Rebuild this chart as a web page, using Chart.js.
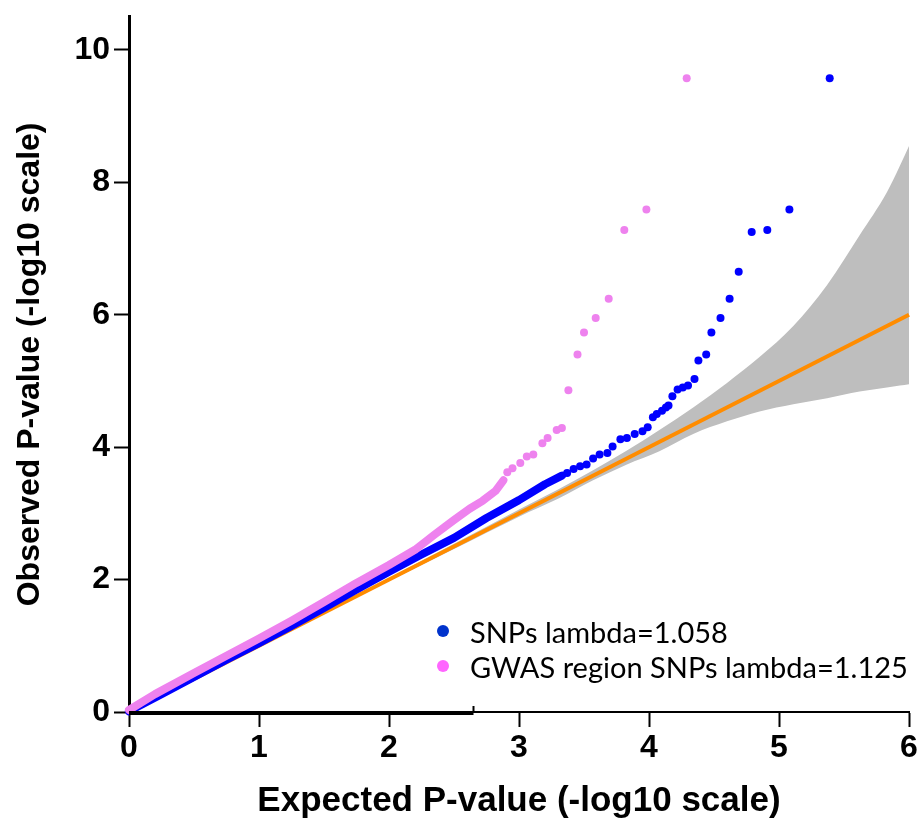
<!DOCTYPE html>
<html lang="en">
<head>
  <meta charset="UTF-8">
  <title>QQ plot</title>
  <script src="https://cdn.jsdelivr.net/npm/chart.js"></script>
  <style>
    html, body { margin: 0; padding: 0; background: #fff; }
    #wrap { position: relative; width: 922px; height: 828px; }
    #legend { position: absolute; left: 434px; top: 614px; font-family: Lato, "Open Sans", sans-serif; font-size: 29px; color: #000; }
    #legend div { position: relative; height: 35px; line-height: 35px; padding-left: 36px; white-space: nowrap; }
    #legend span.dot { position: absolute; left: 3px; top: 11px; width: 12px; height: 12px; border-radius: 50%; }
  </style>
</head>
<body>
  <div id="wrap">
    <canvas id="qq" width="922" height="828"></canvas>
    <!-- Legenda -->
    <div id="legend">
      <div><span class="dot" style="background:#0033cc"></span>SNPs lambda=1.058</div>
      <div><span class="dot" style="background:#ff66ff"></span>GWAS region SNPs lambda=1.125</div>
    </div>
  </div>

  <script>
    // eixos
    const xTicks = [0, 1, 2, 3, 4, 5, 6];
    const yTicks = [0, 2, 4, 6, 8, 10];

    // SNPs: parte densa (faixa continua) e cauda
    const snpDenseX = [0, 0.25, 0.5, 0.75, 1.0, 1.25, 1.5, 1.75, 2.0, 2.25, 2.5, 2.75, 3.0, 3.2, 3.33];
    const snpDenseY = [0.01, 0.27, 0.53, 0.79, 1.04, 1.3, 1.57, 1.85, 2.12, 2.38, 2.63, 2.93, 3.2, 3.44, 3.57];
    const snpTailX = [3.37, 3.42, 3.47, 3.52, 3.57, 3.62, 3.68, 3.72, 3.78, 3.83, 3.89, 3.95, 3.99, 4.03, 4.06, 4.10, 4.13, 4.15, 4.18, 4.22, 4.26, 4.30, 4.35, 4.38, 4.44, 4.48, 4.55, 4.62, 4.69, 4.79, 4.91, 5.08, 5.39];
    const snpTailY = [3.61, 3.67, 3.71, 3.74, 3.83, 3.89, 3.91, 4.01, 4.12, 4.14, 4.20, 4.24, 4.30, 4.45, 4.50, 4.55, 4.60, 4.63, 4.77, 4.87, 4.90, 4.93, 5.03, 5.31, 5.40, 5.73, 5.95, 6.24, 6.65, 7.25, 7.28, 7.59, 9.57];

    // GWAS region SNPs
    const gwasDenseX = [0, 0.2, 0.5, 0.75, 1.0, 1.25, 1.5, 1.75, 2.0, 2.2, 2.35, 2.5, 2.62, 2.72, 2.82, 2.88];
    const gwasDenseY = [0.03, 0.27, 0.59, 0.85, 1.11, 1.38, 1.66, 1.95, 2.22, 2.45, 2.68, 2.9, 3.07, 3.19, 3.34, 3.5];
    const gwasTailX = [2.91, 2.95, 3.01, 3.06, 3.11, 3.18, 3.22, 3.29, 3.33, 3.38, 3.45, 3.50, 3.59, 3.69, 3.81, 3.98, 4.29];
    const gwasTailY = [3.62, 3.68, 3.76, 3.86, 3.89, 4.06, 4.14, 4.26, 4.29, 4.86, 5.40, 5.73, 5.95, 6.24, 7.28, 7.59, 9.57];

    // intervalo de confianca (cinza)
    const bandX = [1.9, 2.5, 3.0, 3.3, 3.57, 3.83, 4.08, 4.34, 4.6, 4.85, 5.11, 5.37, 5.62, 5.83, 5.93, 6.0];
    const bandUpper = [1.92, 2.54, 3.06, 3.36, 3.65, 3.95, 4.26, 4.6, 4.97, 5.36, 5.83, 6.45, 7.2, 7.85, 8.25, 8.55];
    const bandLower = [1.88, 2.46, 2.95, 3.22, 3.5, 3.74, 3.94, 4.2, 4.39, 4.54, 4.65, 4.74, 4.84, 4.9, 4.93, 4.95];

    // linha esperada y = x
    const expX = [0, 6];
    const expY = [0, 6];

    const pts = (xs, ys) => xs.map((x, i) => ({ x: x, y: ys[i] }));

    // traco mais grosso no inicio do eixo x (como no original)
    const axisSegment = {
      id: 'axisSegment',
      afterDraw(chart) {
        const { ctx, scales: { x, y } } = chart;
        ctx.save();
        ctx.strokeStyle = '#000';
        ctx.lineWidth = 4;
        ctx.beginPath();
        ctx.moveTo(x.getPixelForValue(0), y.getPixelForValue(0) + 1);
        ctx.lineTo(x.getPixelForValue(2.65), y.getPixelForValue(0) + 1);
        ctx.stroke();
        ctx.lineWidth = 2;
        ctx.beginPath();
        ctx.moveTo(x.getPixelForValue(2.65), y.getPixelForValue(0));
        ctx.lineTo(x.getPixelForValue(2.65), y.getPixelForValue(0) - 6);
        ctx.stroke();
        ctx.restore();
      }
    };

    const fam = '"Liberation Sans", Arial, sans-serif';

    new Chart(document.getElementById('qq'), {
      type: 'scatter',
      data: {
        datasets: [
          {
            label: 'GWAS region SNPs lambda=1.125',
            data: pts(gwasTailX, gwasTailY),
            backgroundColor: '#ee82ee', borderWidth: 0, pointRadius: 4, order: 1
          },
          {
            label: 'gwas dense',
            data: pts(gwasDenseX, gwasDenseY),
            showLine: true, borderColor: '#ee82ee', borderWidth: 8, pointRadius: 0,
            borderCapStyle: 'round', borderJoinStyle: 'round', order: 2
          },
          {
            label: 'SNPs lambda=1.058',
            data: pts(snpTailX, snpTailY),
            backgroundColor: '#0000ff', borderWidth: 0, pointRadius: 4, order: 3
          },
          {
            label: 'snp dense',
            data: pts(snpDenseX, snpDenseY),
            showLine: true, borderColor: '#0000ff', borderWidth: 8, pointRadius: 0,
            borderCapStyle: 'round', borderJoinStyle: 'round', order: 4
          },
          {
            label: 'expected',
            data: pts(expX, expY),
            showLine: true, borderColor: '#ff8c00', borderWidth: 4, pointRadius: 0, order: 5
          },
          {
            label: 'upper',
            data: pts(bandX, bandUpper),
            showLine: true, borderWidth: 0, borderColor: 'rgba(0,0,0,0)', pointRadius: 0,
            cubicInterpolationMode: 'monotone',
            backgroundColor: '#bebebe', fill: '+1', order: 6
          },
          {
            label: 'lower',
            data: pts(bandX, bandLower),
            showLine: true, borderWidth: 0, borderColor: 'rgba(0,0,0,0)', pointRadius: 0,
            cubicInterpolationMode: 'monotone', order: 7
          }
        ]
      },
      options: {
        responsive: false,
        animation: false,
        clip: false,
        layout: { padding: { left: 0, right: 13, top: 12, bottom: 0 } },
        plugins: {
          legend: { display: false },
          tooltip: { enabled: false }
        },
        scales: {
          x: {
            type: 'linear', min: 0, max: 6,
            afterBuildTicks: (s) => { s.ticks = xTicks.map(v => ({ value: v })); },
            afterFit: (s) => { s.height = 116; },
            grid: { drawOnChartArea: false, drawTicks: true, tickLength: 15, tickWidth: 2, tickColor: '#000' },
            border: { display: true, color: '#000', width: 2 },
            ticks: { color: '#000', font: { family: fam, size: 32, weight: 'bold' }, padding: 2, maxRotation: 0 },
            title: { display: true, text: 'Expected P-value (-log10 scale)', color: '#000',
              font: { family: fam, size: 35, weight: 'bold' }, padding: { top: 4, bottom: 6 } }
          },
          y: {
            type: 'linear', min: 0, max: 10.5,
            afterBuildTicks: (s) => { s.ticks = yTicks.map(v => ({ value: v })); },
            afterFit: (s) => { s.width = 129; },
            grid: { drawOnChartArea: false, drawTicks: true, tickLength: 15, tickWidth: 2, tickColor: '#000' },
            border: { display: true, color: '#000', width: 3 },
            ticks: { color: '#000', font: { family: fam, size: 32, weight: 'bold', lineHeight: 0.8 }, padding: 4 },
            title: { display: true, text: 'Observed P-value (-log10 scale)', color: '#000',
              font: { family: fam, size: 32, weight: 'bold' }, padding: { top: 11, bottom: 4 } }
          }
        }
      },
      plugins: [axisSegment]
    });
  </script>
</body>
</html>
